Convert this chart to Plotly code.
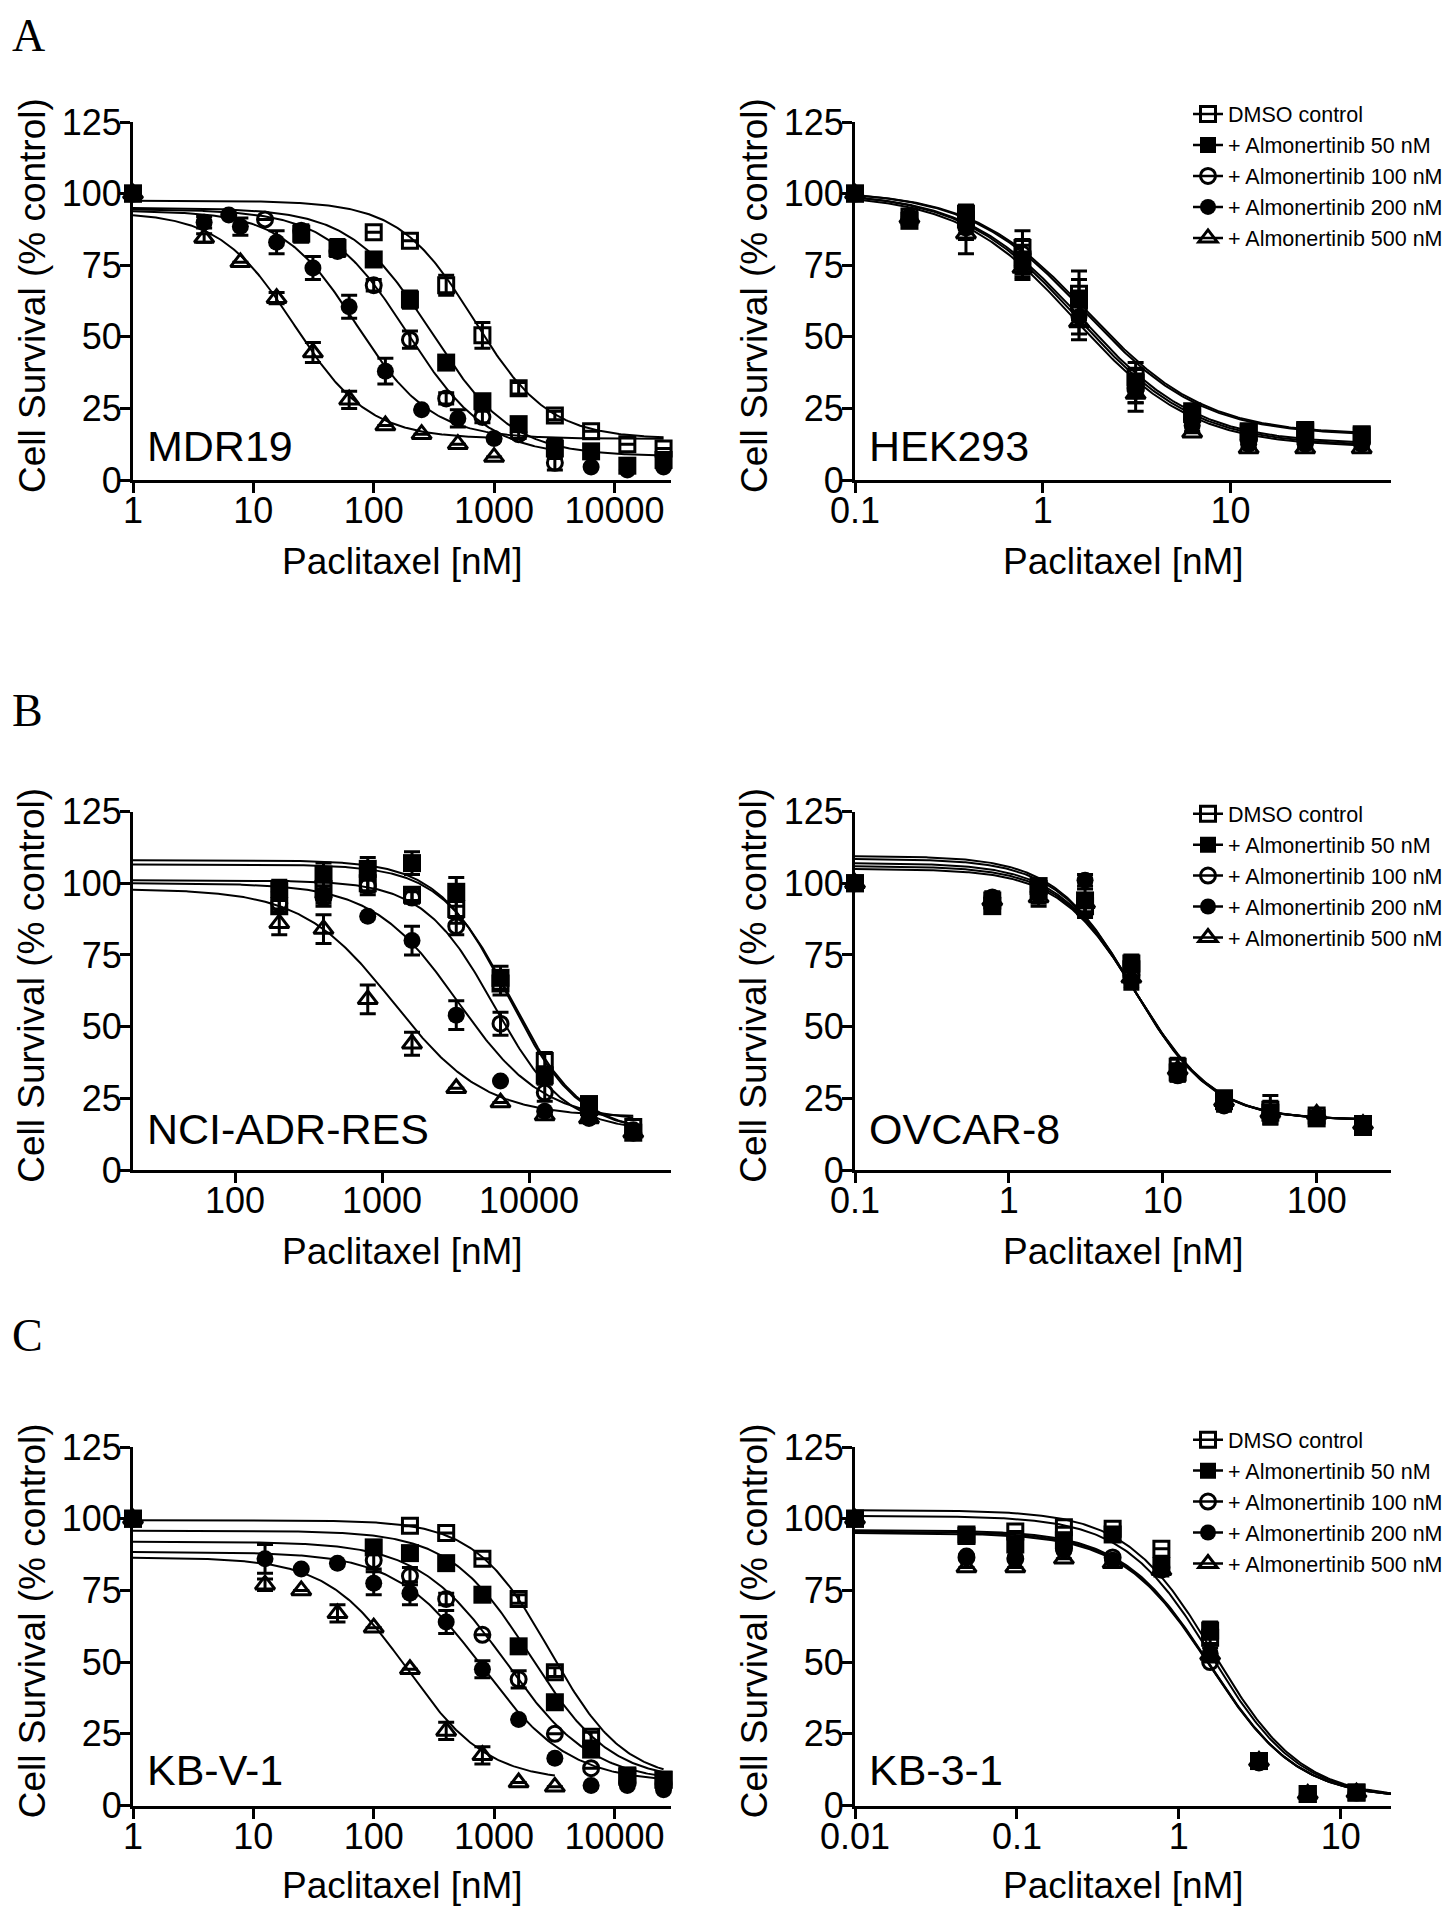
import numpy as np
import plotly.graph_objects as go

PAGE_W, PAGE_H = 1452, 1920
BODY = 8  # default page margin around the plot div
W, H = PAGE_W - 2 * BODY, PAGE_H - 2 * BODY
FONT = "Liberation Sans, Arial, Helvetica, sans-serif"
SERIF = "Liberation Serif, Times New Roman, serif"

series_names = ["DMSO control", "+ Almonertinib 50 nM", "+ Almonertinib 100 nM",
                "+ Almonertinib 200 nM", "+ Almonertinib 500 nM"]

# ---------------- A: MDR19 ----------------
mdr19_x_dmso = [1, 100, 200, 400, 800, 1600, 3200, 6400, 12800, 25600]
mdr19_y_dmso = [100, 86.5, 83.5, 68, 50.5, 32, 22.5, 17, 12.5, 11]
mdr19_e_dmso = [0, 1, 1, 3.5, 4.5, 2, 1.5, 1, 1, 1]
mdr19_x_a50 = [1, 25, 50, 100, 200, 400, 800, 1600, 3200, 6400, 12800, 25600]
mdr19_y_a50 = [100, 86, 81, 77, 63, 41, 27.5, 19.5, 11, 10, 5, 7]
mdr19_e_a50 = [0, 3, 3, 1.5, 3, 1.5, 2, 1.5, 3.5, 1.5, 1, 1]
mdr19_x_a100 = [1, 12.5, 25, 50, 100, 200, 400, 800, 1600, 3200]
mdr19_y_a100 = [100, 91, 87, 80, 68, 49, 28.5, 22, 16, 6]
mdr19_e_a100 = [0, 1, 2, 2, 2, 3, 2, 2, 1.5, 2.5]
mdr19_x_a200 = [1, 3.9, 6.25, 7.8, 15.6, 31.25, 62.5, 125, 250, 500, 1000, 6400, 12800, 25600]
mdr19_y_a200 = [100, 90, 92.5, 88.5, 83, 74, 60.5, 38, 24.5, 21.5, 14.5, 4.5, 3.5, 4.5]
mdr19_e_a200 = [0, 2, 1, 3, 4, 4, 4, 4.5, 1, 3, 1, 1, 1, 1]
mdr19_x_a500 = [1, 3.9, 7.8, 15.6, 31.25, 62.5, 125, 250, 500, 1000]
mdr19_y_a500 = [100, 84.5, 76, 63.5, 44.5, 28, 19, 16, 12.5, 8]
mdr19_e_a500 = [0, 1.5, 1, 2, 3.5, 3, 1, 1, 1, 1]
mdr19_top = [97.5, 95, 94.5, 94, 93.5]
mdr19_bottom = [14.4, 8.3, 8.3, 14.4, 14.4]
mdr19_ic50 = [680, 300, 190, 72, 22]
mdr19_hill = [1.4, 1.3, 1.3, 1.4, 1.4]

# ---------------- A: HEK293 ----------------
hek_x = [0.1, 0.195, 0.39, 0.78, 1.56, 3.125, 6.25, 12.5, 25, 50]
hek_y_dmso = [100, 92, 91, 81, 65, 36, 24, 17, 17.5, 16]
hek_e_dmso = [0, 1.5, 3, 6, 8, 5, 2, 1, 1, 1]
hek_y_a50 = [100, 90.5, 93, 77, 63, 34, 23, 16.5, 17, 15.5]
hek_e_a50 = [0, 1.5, 3, 5, 7, 5, 2, 1, 1, 1]
hek_y_a100 = [100, 91, 90, 79, 60, 32, 21, 14, 13.5, 13]
hek_e_a100 = [0, 1, 4, 5, 6, 5, 2, 1, 1, 1]
hek_y_a200 = [100, 92, 88, 75, 57, 31, 19, 12.5, 12.5, 12.5]
hek_e_a200 = [0, 1, 4, 4, 6, 4, 2, 1, 1, 1]
hek_y_a500 = [100, 91.5, 86, 74, 55, 30, 16.5, 11, 11, 11]
hek_e_a500 = [0, 1, 7, 4, 6, 6, 1, 1, 1, 1]
hek_top = [101, 101, 100.5, 100.5, 100]
hek_bottom = [15.8, 15.5, 12.5, 12, 11.5]
hek_ic50 = [1.75, 1.7, 1.6, 1.55, 1.5]
hek_hill = [1.4, 1.4, 1.4, 1.4, 1.4]

# ---------------- B: NCI-ADR-RES ----------------
nci_x = [200, 400, 800, 1600, 3200, 6400, 12800, 25600, 51200]
nci_y_dmso = [92, 98, 100, 96, 91, 65, 38, 22, 15]
nci_e_dmso = [2, 3, 3, 2, 5, 4, 3, 1, 1]
nci_y_a50 = [98, 103, 105, 107, 97, 67, 33, 23, 13]
nci_e_a50 = [3, 4, 4, 4, 5, 4, 3, 1, 1]
nci_y_a100 = [93, 95, 99, 95, 85, 51, 27, 20, 13]
nci_e_a100 = [2, 3, 3, 2, 3, 4, 3, 1, 1]
nci_y_a200 = [97, 96, 88.5, 80, 54, 31, 20.5, 18, 14]
nci_e_a200 = [3, 3, 1, 5, 5, 1, 1, 1, 1]
nci_y_a500 = [86, 84, 59.5, 44, 28.5, 23.5, 19, 18, 13]
nci_e_a500 = [4, 5, 5, 4, 1, 1, 1, 1, 1]
nci_top = [106.5, 108, 101, 100, 98]
nci_bottom = [13, 13, 13.5, 17, 18.5]
nci_ic50 = [7500, 7200, 5800, 3300, 1200]
nci_hill = [1.8, 1.8, 1.8, 1.5, 1.4]

# ---------------- B: OVCAR-8 ----------------
ovc_x = [0.1, 0.78, 1.56, 3.125, 6.25, 12.5, 25, 50, 100, 200]
ovc_y_dmso = [100, 94, 98, 92, 70, 36, 25, 21, 19, 16]
ovc_e_dmso = [0, 2, 3, 3, 3, 3, 2, 5, 1, 1]
ovc_y_a50 = [100, 92, 99, 94, 72, 34, 24, 20, 18, 15]
ovc_e_a50 = [0, 2, 2, 4, 3, 3, 2, 4, 1, 1]
ovc_y_a100 = [100, 95, 97, 91, 68, 33, 22.5, 19, 18.5, 15.5]
ovc_e_a100 = [0, 2, 2, 3, 3, 2, 2, 2, 1, 1]
ovc_y_a200 = [100, 93, 96, 101, 66, 33, 24, 19, 18, 15]
ovc_e_a200 = [0, 2, 3, 2, 3, 2, 2, 2, 1, 1]
ovc_y_a500 = [100, 94, 95, 93, 67, 35, 24, 20, 19.5, 16]
ovc_e_a500 = [0, 2, 3, 3, 3, 2, 2, 2, 1, 1]
ovc_top = [109.5, 108.5, 107, 106, 105]
ovc_bottom = [17.5, 17.5, 17.5, 17.5, 17.5]
ovc_ic50 = [6.4, 6.5, 6.6, 6.7, 6.8]
ovc_hill = [1.7, 1.7, 1.7, 1.7, 1.7]

# ---------------- C: KB-V-1 ----------------
kbv_x_dmso = [1, 200, 400, 800, 1600, 3200, 6400, 12800, 25600]
kbv_y_dmso = [100, 97.5, 95, 86, 72, 46.5, 24, 10, 9]
kbv_e_dmso = [0, 1, 1, 1, 1.5, 1.5, 1.5, 1, 1]
kbv_x_a50 = [1, 100, 200, 400, 800, 1600, 3200, 6400, 12800, 25600]
kbv_y_a50 = [100, 90, 88, 84.5, 73.5, 55.5, 36, 19.5, 10.5, 9]
kbv_e_a50 = [0, 2, 1, 1, 1, 1, 1, 1, 1, 1]
kbv_x_a100 = [1, 100, 200, 400, 800, 1600, 3200, 6400, 12800, 25600]
kbv_y_a100 = [100, 85.5, 80, 72, 59.5, 44, 25, 13, 8, 7.5]
kbv_e_a100 = [0, 3, 3, 2, 1, 3, 1, 1, 1, 1]
kbv_x_a200 = [1, 12.5, 25, 50, 100, 200, 400, 800, 1600, 3200, 6400, 12800, 25600]
kbv_y_a200 = [100, 86, 82.5, 84.5, 77.5, 74, 64, 47.5, 30, 16.5, 7, 7, 5.5]
kbv_e_a200 = [0, 5, 1, 1, 4, 4, 4, 3, 1, 1, 1, 1, 1]
kbv_x_a500 = [1, 12.5, 25, 50, 100, 200, 400, 800, 1600, 3200]
kbv_y_a500 = [100, 77, 75, 67, 62, 47.5, 26, 17.5, 8, 6.5]
kbv_e_a500 = [0, 2, 1, 3, 1, 1, 3, 3, 1, 1]
kbv_top = [99.5, 95.8, 92, 88.4, 86.5]
kbv_bottom = [8.5, 8.5, 8, 8, 8.5]
kbv_ic50 = [2900, 2000, 1250, 800, 190]
kbv_hill = [1.4, 1.3, 1.2, 1.2, 1.3]

# ---------------- C: KB-3-1 ----------------
kb3_x = [0.01, 0.0488, 0.0977, 0.195, 0.39, 0.78, 1.56, 3.125, 6.25, 12.5]
kb3_y_dmso = [100, 94, 95.5, 97, 96.5, 89.5, 58.5, 15.5, 4, 4.5]
kb3_e_dmso = [0, 1, 1, 1, 1, 1, 2, 1, 1, 1]
kb3_y_a50 = [100, 94.5, 91, 92.5, 94.5, 83.5, 61, 15.5, 4, 4.5]
kb3_e_a50 = [0, 1, 1, 1, 1, 1, 3, 1, 1, 1]
kb3_y_a100 = [100, 86.5, 86, 89.5, 86.5, 83, 50, 15, 4, 4.5]
kb3_e_a100 = [0, 1, 1, 1, 1, 1, 1, 1, 1, 1]
kb3_y_a200 = [100, 87, 86.5, 89, 85.5, 82, 53, 15, 4, 4.5]
kb3_e_a200 = [0, 1, 1, 1, 1, 2, 2, 2, 1, 1]
kb3_y_a500 = [100, 83, 83, 86, 84.5, 82, 52.5, 15.5, 4, 4.5]
kb3_e_a500 = [0, 1, 1, 1, 1, 1, 1, 1, 1, 1]
kb3_top = [103, 101, 96, 95.5, 95]
kb3_bottom = [2.5, 2.5, 2.5, 2.5, 2.5]
kb3_ic50 = [1.65, 1.6, 1.55, 1.55, 1.55]
kb3_hill = [1.6, 1.6, 1.6, 1.6, 1.6]

# tick labels
ticks_mdr19 = [1, 10, 100, 1000, 10000]
ticks_hek = [0.1, 1, 10]
ticks_nci = [100, 1000, 10000]
ticks_ovc = [0.1, 1, 10, 100]
ticks_kbv = [1, 10, 100, 1000, 10000]
ticks_kb3 = [0.01, 0.1, 1, 10]
y_ticks = [0, 25, 50, 75, 100, 125]

# ---------------- panel assembly ----------------
panels = [
    dict(label="MDR19",
         xs=[mdr19_x_dmso, mdr19_x_a50, mdr19_x_a100, mdr19_x_a200, mdr19_x_a500],
         ys=[mdr19_y_dmso, mdr19_y_a50, mdr19_y_a100, mdr19_y_a200, mdr19_y_a500],
         es=[mdr19_e_dmso, mdr19_e_a50, mdr19_e_a100, mdr19_e_a200, mdr19_e_a500],
         fit=(mdr19_top, mdr19_bottom, mdr19_ic50, mdr19_hill),
         ticks=ticks_mdr19, xr=(0, 4.47), cfrom=1, cto=None),
    dict(label="HEK293",
         xs=[hek_x] * 5,
         ys=[hek_y_dmso, hek_y_a50, hek_y_a100, hek_y_a200, hek_y_a500],
         es=[hek_e_dmso, hek_e_a50, hek_e_a100, hek_e_a200, hek_e_a500],
         fit=(hek_top, hek_bottom, hek_ic50, hek_hill),
         ticks=ticks_hek, xr=(-1, 1.855), cfrom=0.1, cto=None),
    dict(label="NCI-ADR-RES",
         xs=[nci_x] * 5,
         ys=[nci_y_dmso, nci_y_a50, nci_y_a100, nci_y_a200, nci_y_a500],
         es=[nci_e_dmso, nci_e_a50, nci_e_a100, nci_e_a200, nci_e_a500],
         fit=(nci_top, nci_bottom, nci_ic50, nci_hill),
         ticks=ticks_nci, xr=(1.306, 4.966), cfrom=10 ** 1.306, cto=None),
    dict(label="OVCAR-8",
         xs=[ovc_x] * 5,
         ys=[ovc_y_dmso, ovc_y_a50, ovc_y_a100, ovc_y_a200, ovc_y_a500],
         es=[ovc_e_dmso, ovc_e_a50, ovc_e_a100, ovc_e_a200, ovc_e_a500],
         fit=(ovc_top, ovc_bottom, ovc_ic50, ovc_hill),
         ticks=ticks_ovc, xr=(-1, 2.483), cfrom=0.1, cto=None),
    dict(label="KB-V-1",
         xs=[kbv_x_dmso, kbv_x_a50, kbv_x_a100, kbv_x_a200, kbv_x_a500],
         ys=[kbv_y_dmso, kbv_y_a50, kbv_y_a100, kbv_y_a200, kbv_y_a500],
         es=[kbv_e_dmso, kbv_e_a50, kbv_e_a100, kbv_e_a200, kbv_e_a500],
         fit=(kbv_top, kbv_bottom, kbv_ic50, kbv_hill),
         ticks=ticks_kbv, xr=(0, 4.47), cfrom=1, cto=None),
    dict(label="KB-3-1",
         xs=[kb3_x] * 5,
         ys=[kb3_y_dmso, kb3_y_a50, kb3_y_a100, kb3_y_a200, kb3_y_a500],
         es=[kb3_e_dmso, kb3_e_a50, kb3_e_a100, kb3_e_a200, kb3_e_a500],
         fit=(kb3_top, kb3_bottom, kb3_ic50, kb3_hill),
         ticks=ticks_kb3, xr=(-2, 1.31), cfrom=0.01, cto=10 ** 1.31),
]

# ---------------- layout geometry (pixels of the 1452x1920 page) ----------------
col_x = [(133, 671), (855, 1391)]
row_y = [(122, 480), (811.5, 1170), (1447, 1805.5)]
letters = [("A", 35.5), ("B", 710.5), ("C", 1335)]
label_base = [461, 1143.5, 1785]
xtitle_c = [561, 1251, 1885]
ytitle_dy = [-5, -5, -5]
legend_top = [93.6, 793.2, 1419.2]


def px(x):
    return (x - BODY) / W


def py(y):
    return 1 - (y - BODY) / H


symbols = ["square-open", "square", "circle-open", "circle", "triangle-up-open"]
msize = [15, 18, 15, 17, 17]
mline = [3, 0, 3, 0, 3]

fig = go.Figure()
annotations = []
layout = dict(width=W, height=H, margin=dict(l=0, r=0, t=0, b=0, pad=0, autoexpand=False),
              paper_bgcolor="white", plot_bgcolor="white", showlegend=True,
              font=dict(family=FONT, color="black"))


def hill_curve(x, top, bottom, ic50, h):
    return bottom + (top - bottom) / (1 + (x / ic50) ** h)


for i, p in enumerate(panels):
    r, c = divmod(i, 2)
    n = i + 1
    xa = "x" if n == 1 else f"x{n}"
    ya = "y" if n == 1 else f"y{n}"
    xk = "xaxis" if n == 1 else f"xaxis{n}"
    yk = "yaxis" if n == 1 else f"yaxis{n}"
    x0, x1 = col_x[c]
    y0, y1 = row_y[r]

    layout[xk] = dict(type="log", range=list(p["xr"]), domain=[px(x0), px(x1)], anchor=ya,
                      showline=True, linewidth=3, linecolor="black", ticks="outside",
                      ticklen=10, tickwidth=3, tickcolor="black", ticklabelstandoff=-13,
                      tickvals=p["ticks"], ticktext=[f"{t:g}" for t in p["ticks"]],
                      tickfont=dict(family=FONT, size=36, color="black"),
                      showgrid=False, zeroline=False, automargin=False)
    layout[yk] = dict(range=[0, 125], domain=[py(y1), py(y0)], anchor=xa,
                      showline=True, linewidth=3, linecolor="black", ticks="outside",
                      ticklen=10, tickwidth=3, tickcolor="black", ticklabelstandoff=-9,
                      tickvals=y_ticks, ticktext=[str(t) for t in y_ticks],
                      tickfont=dict(family=FONT, size=36, color="black"),
                      showgrid=False, zeroline=False, automargin=False)

    top, bottom, ic50, hh = p["fit"]
    # fitted curves
    for s in range(5):
        cmax = p["cto"] if p["cto"] is not None else max(p["xs"][s])
        xc = np.logspace(np.log10(p["cfrom"]), np.log10(cmax), 300)
        yc = hill_curve(xc, top[s], bottom[s], ic50[s], hh[s])
        fig.add_trace(go.Scatter(x=xc, y=yc, mode="lines", xaxis=xa, yaxis=ya,
                                 line=dict(color="black", width=2), showlegend=False,
                                 hoverinfo="skip"))
    # data points with SEM bars
    for s in range(5):
        err = [e if e >= 1.5 else None for e in p["es"][s]]
        fig.add_trace(go.Scatter(
            x=p["xs"][s], y=p["ys"][s], mode="markers", xaxis=xa, yaxis=ya,
            marker=dict(symbol=symbols[s], size=msize[s], color="black",
                        line=dict(color="black", width=mline[s])),
            error_y=dict(type="data", array=err, visible=True, color="black",
                         thickness=3, width=8),
            cliponaxis=False, showlegend=False, name=series_names[s]))

    # legend entries for right-hand panels
    if c == 1:
        lg = ["legend", "legend2", "legend3"][r]
        for s in range(5):
            fig.add_trace(go.Scatter(
                x=[None], y=[None], mode="lines+markers", xaxis=xa, yaxis=ya,
                marker=dict(symbol=symbols[s], size=msize[s], color="black",
                            line=dict(color="black", width=mline[s])),
                line=dict(color="black", width=2.5), name=series_names[s],
                legend=lg, showlegend=True))
        layout[lg] = dict(x=px(1188), y=py(legend_top[r]), xanchor="left", yanchor="top",
                          bgcolor="rgba(0,0,0,0)", borderwidth=0, itemwidth=30,
                          traceorder="normal",
                          font=dict(family=FONT, size=21.5, color="black"))

    # cell line label
    annotations.append(dict(text=p["label"], x=px(x0 + 12), y=py(label_base[r] - 0.3465 * 43),
                            xref="paper", yref="paper", xanchor="left", yanchor="middle",
                            showarrow=False, font=dict(family=FONT, size=43, color="black")))
    # x title
    annotations.append(dict(text="Paclitaxel [nM]", x=px((x0 + x1) / 2), y=py(xtitle_c[r]),
                            xref="paper", yref="paper", xanchor="center", yanchor="middle",
                            showarrow=False, font=dict(family=FONT, size=37, color="black")))
    # y title
    annotations.append(dict(text="Cell Survival (% control)", x=px(x0 - 101),
                            y=py((y0 + y1) / 2 + ytitle_dy[r]), textangle=-90,
                            xref="paper", yref="paper", xanchor="center", yanchor="middle",
                            showarrow=False, font=dict(family=FONT, size=37, color="black")))

for letter, yc in letters:
    annotations.append(dict(text=letter, x=px(10), y=py(yc), xref="paper", yref="paper",
                            xanchor="left", yanchor="middle", showarrow=False,
                            font=dict(family=SERIF, size=46, color="black")))

layout["annotations"] = annotations
fig.update_layout(**layout)
fig.write_html("out.html")
